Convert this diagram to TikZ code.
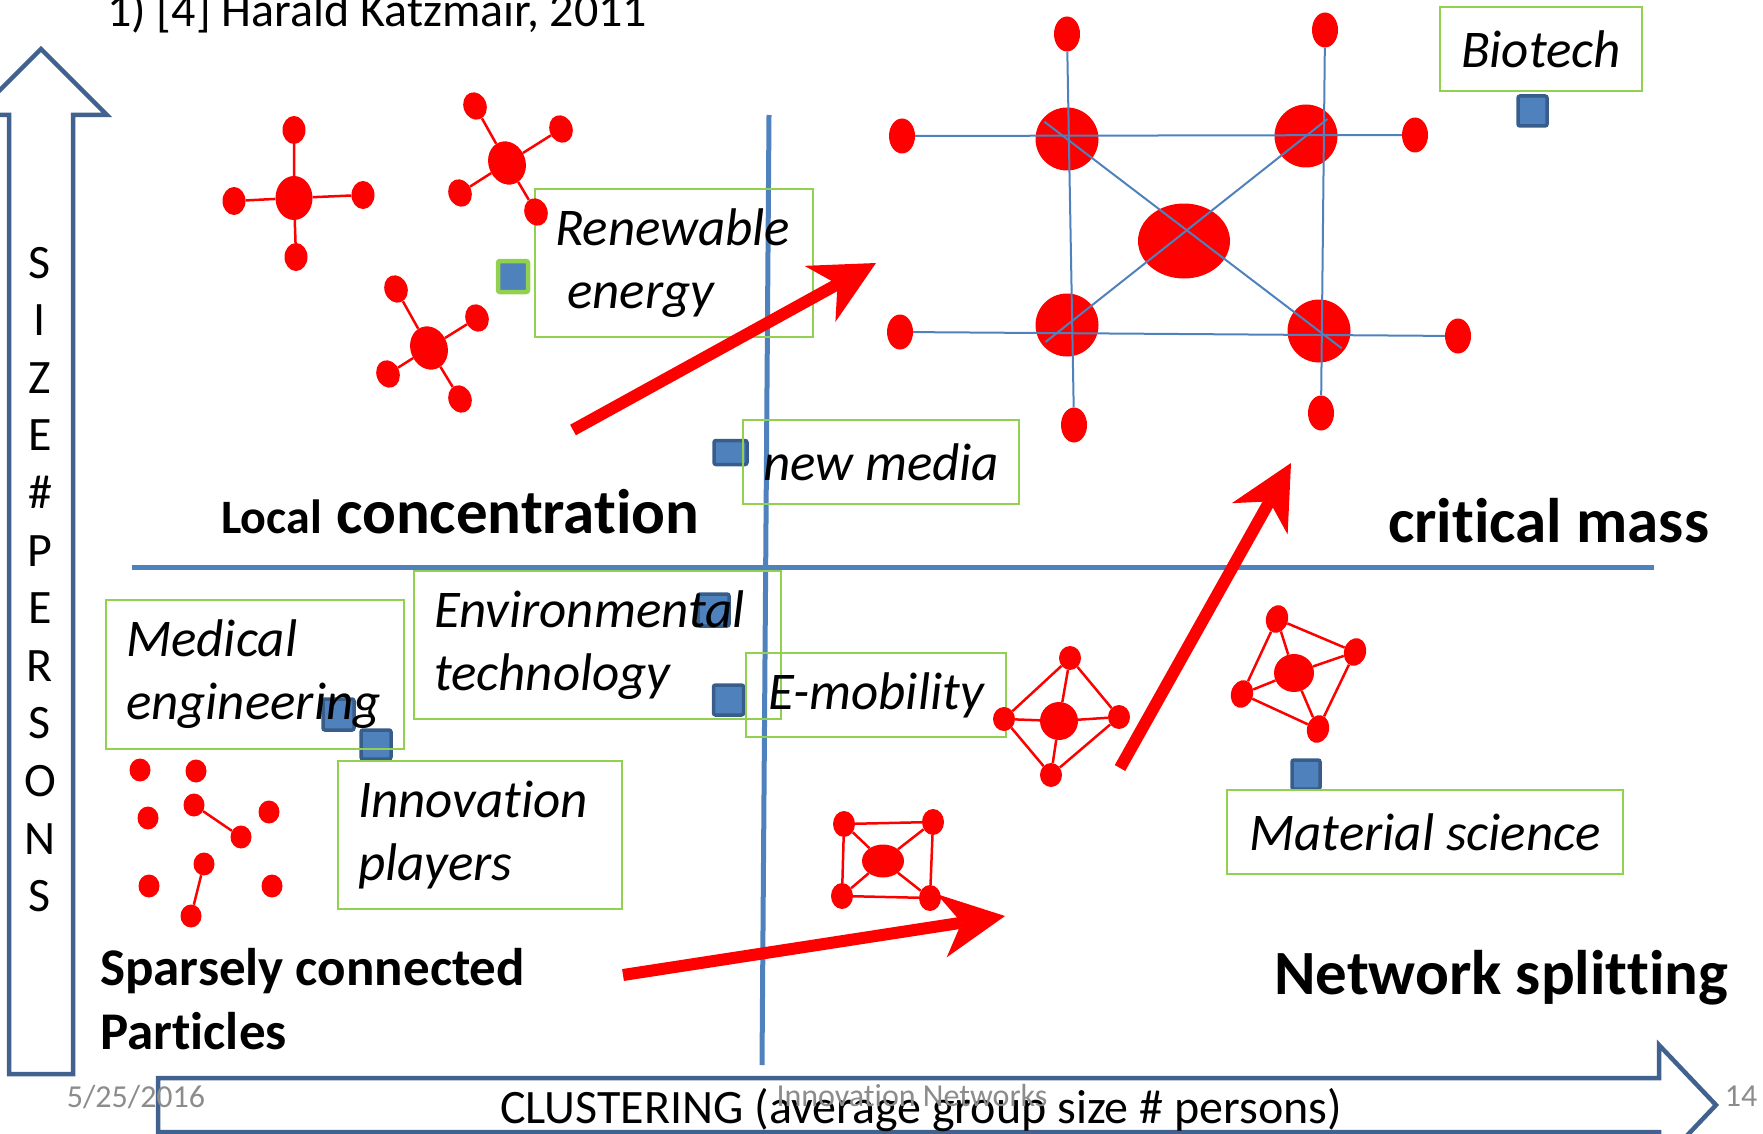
\documentclass[tikz,border=0pt]{standalone}
\usepackage{fontspec}
\setmainfont{Carlito}[Ligatures=NoCommon]
\usetikzlibrary{shapes.geometric,arrows.meta,calc}

\definecolor{netred}{HTML}{FF0000}
\definecolor{axisblue}{HTML}{41628F}
\definecolor{divblue}{HTML}{4F81BD}
\definecolor{boxgreen}{HTML}{92D050}
\definecolor{sqfill}{HTML}{4F81BD}
\definecolor{sqedge}{HTML}{385D8A}
\definecolor{footgray}{HTML}{8C8C8C}

\tikzstyle{atom}=[ellipse, fill=netred, inner sep=0pt, minimum width=23pt, minimum height=28pt]
\tikzstyle{hub}=[atom, minimum width=37pt, minimum height=44pt]
\tikzstyle{bond}=[netred, line width=2.5pt]
\tikzstyle{link}=[divblue, line width=2pt]
\tikzstyle{divider}=[divblue, line width=5pt]
\tikzstyle{blockarrow}=[axisblue, line width=4.5pt, line join=miter]
\tikzstyle{trend}=[netred, line width=12pt, -{Stealth[length=64pt,width=64pt,inset=20pt,line width=0pt]}]
\tikzstyle{tagbox}=[rectangle, draw=boxgreen, line width=2pt, inner xsep=20pt, inner ysep=0pt, font=\fontsize{53}{63}\selectfont\itshape, align=flush left]
\tikzstyle{sqmark}=[rectangle, rounded corners=2pt, fill=sqfill, draw=sqedge, line width=3.5pt, minimum width=30pt, minimum height=30pt, inner sep=0pt]
\tikzstyle{quadlbl}=[inner sep=0pt, anchor=base west, font=\fontsize{63}{75}\selectfont\bfseries]
\tikzstyle{axislbl}=[inner sep=0pt, font=\fontsize{48}{57}\selectfont]
\tikzstyle{footer}=[inner sep=0pt, anchor=base, text=footgray, font=\fontsize{32}{38}\selectfont]

% hub with four satellites: name, centre, top, right, bottom, left, tilt
\newcommand{\starmol}[7]
{
  \node[hub, rotate=#7] (#1c) at #2 {};
  \node[atom, rotate=#7] (#1t) at #3 {};
  \node[atom, rotate=#7] (#1r) at #4 {};
  \node[atom, rotate=#7] (#1b) at #5 {};
  \node[atom, rotate=#7] (#1l) at #6 {};
  \draw[bond] (#1t) -- (#1c) -- (#1b);
  \draw[bond] (#1l) -- (#1c) -- (#1r);
}

\begin{document}
\begin{tikzpicture}[x=1pt,y=-1pt]
	\useasboundingbox (0,0) rectangle (1763,1134);
	\clip (0,0) rectangle (1763,1134);

	% quadrants
	\draw[divider] (769,115) -- (762,1065);
	\draw[divider] (132,567.5) -- (1654,567.5);

	% axes
	\draw[blockarrow] (9,1074) -- (9,115) -- (-25,115) -- (41,49) -- (107,115) -- (73,115) -- (73,1074) -- cycle;
	\draw[blockarrow] (158,1132) -- (158,1078) -- (1659,1078) -- (1659,1045) -- (1716,1105) -- (1659,1165) -- (1659,1132) -- cycle;

	% sectors
	\node[sqmark, draw=boxgreen, line width=4.5pt, minimum height=31pt] (sqrenew) at (513,276.5) {};
	\node[sqmark, minimum width=29pt] (sqbio) at (1532.5,111) {};
	\node[sqmark, minimum width=33pt, minimum height=24pt] (sqmedia) at (730.5,452.5) {};
	\node[sqmark, minimum width=31pt, minimum height=31pt] (sqmed) at (338.5,714.5) {};
	\node[sqmark, minimum height=29pt] (sqinnov) at (376,744.5) {};
	\node[sqmark, minimum width=31pt, minimum height=32pt] (sqenv) at (713.5,610) {};
	\node[sqmark] (sqemob) at (728.5,700) {};
	\node[sqmark, minimum width=28pt, minimum height=29pt] (sqmat) at (1306,774.5) {};

	\node[tagbox, minimum width=278pt, minimum height=148pt, text width=238pt] (renew) at (674,263) {Renewable\\\hspace*{.23em}energy};
	\node[tagbox, minimum width=202pt, minimum height=84pt] (biotech) at (1541,49) {Biotech};
	\node[tagbox, minimum width=274pt, minimum height=84pt] (media) at (881,462) {new media};
	\node[tagbox, minimum width=298pt, minimum height=149pt, text width=258pt] (medical) at (255,674) {Medical\\engineering};
	\node[tagbox, minimum width=367pt, minimum height=148pt, text width=327pt] (environ) at (597.5,645) {Environmental\\technology};
	\node[tagbox, minimum width=260pt, minimum height=84pt] (emob) at (876,695) {E-mobility};
	\node[tagbox, minimum width=284pt, minimum height=148pt, text width=244pt] (innov) at (480,835) {Innovation\\players};
	\node[tagbox, minimum width=396pt, minimum height=84pt] (material) at (1425,832) {Material science};

	% local concentration
	\starmol{starA}{(294,198)}{(294,130)}{(363,195)}{(296,257)}{(234,201)}{0}
	\starmol{starB}{(507,163)}{(475,106)}{(561,129)}{(536,212)}{(460,193)}{20}
	\starmol{starC}{(429,348)}{(396,289)}{(477,318)}{(460,399)}{(388,374)}{20}

	% critical mass
	\node[hub, minimum width=92pt, minimum height=75pt] (core) at (1184,241) {};
	\foreach \n/\x/\y in {tl/1067/139, tr/1306/136, bl/1067/325, br/1319/331}
		\node[hub, minimum width=63pt, minimum height=63pt] (\n) at (\x,\y) {};
	\foreach \n/\x/\y in {tlt/1067/34, trt/1325/30, tll/902/136, trr/1415/135, bll/900/332, brr/1458/336, blb/1074/425, brb/1321/413}
		\node[atom, minimum width=26pt, minimum height=35pt] (\n) at (\x,\y) {};
	\draw[link] (tlt) -- (blb);
	\draw[link] (trt) -- (brb);
	\draw[link] (tll) -- (trr);
	\draw[link] (bll) -- (brr);
	\draw[link] ($(tl)!-0.09!(br)$) -- ($(br)!-0.09!(tl)$);
	\draw[link] ($(tr)!-0.09!(bl)$) -- ($(bl)!-0.09!(tr)$);

	% network splitting
	\node[hub, minimum width=38pt, minimum height=38pt] (ec) at (1059,721) {};
	\foreach \n/\x/\y in {et/1070/658, el/1004/719, er/1119/717, eb/1051/775}
		\node[atom, minimum width=22pt, minimum height=24pt] (\n) at (\x,\y) {};
	\draw[bond] (et) -- (el) -- (eb) -- (er) -- (et);
	\draw[bond] (el) -- (ec) -- (er);
	\draw[bond] (et) -- (ec) -- (eb);

	\node[hub, minimum width=42pt, minimum height=33pt] (qc) at (883,861) {};
	\foreach \n/\x/\y in {q1/844/824, q2/933/822, q3/930/898, q4/842/896}
		\node[atom, minimum width=22pt, minimum height=26pt] (\n) at (\x,\y) {};
	\draw[bond] (q1) -- (q2) -- (q3) -- (q4) -- (q1);
	\foreach \n in {q1,q2,q3,q4}
		\draw[bond] (\n) -- (qc);

	\node[hub, minimum width=40pt, minimum height=38pt] (matc) at (1294,673) {};
	\foreach \n/\x/\y in {matt/1277/619, matr/1355/652, matb/1318/729, matl/1242/694}
		\node[atom, rotate=-15, minimum width=22pt, minimum height=28pt] (\n) at (\x,\y) {};
	\draw[bond] (matt) -- (matr) -- (matb) -- (matl) -- (matt);
	\foreach \n in {matt,matr,matb,matl}
		\draw[bond] (\n) -- (matc);

	% sparse particles
	\foreach \n/\x/\y in {1/140/770, 2/196/771, 3/148/818, 4/194/805, 5/269/812, 6/241/837, 7/204/864, 8/149/886, 9/272/886, 10/191/916}
		\node[atom, minimum width=21pt, minimum height=23pt] (p\n) at (\x,\y) {};
	\draw[bond] (p4) -- (p6);
	\draw[bond] (p7) -- (p10);

	% labels
	\node[axislbl, anchor=base west] (credit) at (107,27) {1) [4] Harald Katzmair, 2011};
	\foreach \ch [count=\i from 0] in {S,I,Z,E,\#,P,E,R,S,O,N,S}
		\node[axislbl, anchor=base] (size\i) at (40,278+57.6*\i) {\ch};
	\node[axislbl, anchor=base west] (xlabel) at (500,1123) {CLUSTERING (average group size \# persons)};

	\node[quadlbl] (localq) at (221,533) {{\fontsize{48}{57}\selectfont Local} concentration};
	\node[quadlbl] (massq) at (1388,542) {critical mass};
	\node[quadlbl, font=\fontsize{53}{64}\selectfont\bfseries] (sparseq) at (100,985) {Sparsely connected};
	\node[quadlbl, font=\fontsize{53}{64}\selectfont\bfseries] (sparseq2) at (100,1049) {Particles};
	\node[quadlbl] (splitq) at (1274,994) {Network splitting};

	% trends
	\coordinate (a1s) at (573,430);
	\coordinate (a1e) at (876,263);
	\coordinate (a2s) at (1120,768);
	\coordinate (a2e) at (1291,463);
	\coordinate (a3s) at (623,975);
	\coordinate (a3e) at (1005,916);
	\draw[trend] (a1s) -- (a1e);
	\draw[trend] (a2s) -- (a2e);
	\draw[trend] (a3s) -- (a3e);

	\node[footer] (fdate) at (136,1107) {5/25/2016};
	\node[footer] (ftitle) at (912,1106) {Innovation Networks};
	\node[footer] (fpage) at (1741,1106) {14};
\end{tikzpicture}
\end{document}
